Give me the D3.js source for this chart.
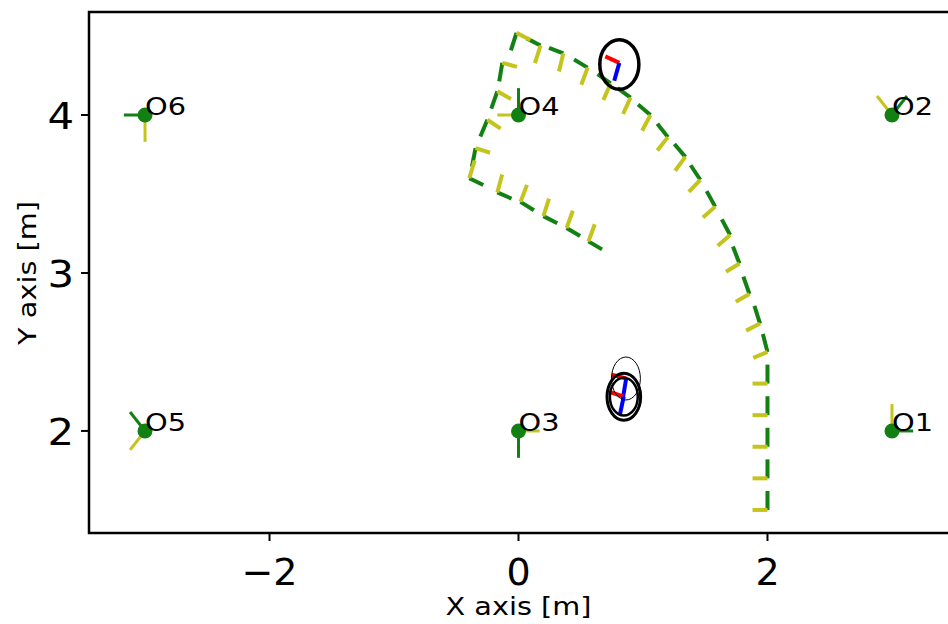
<!DOCTYPE html>
<html>
<head>
<meta charset="utf-8">
<script src="https://cdn.jsdelivr.net/npm/d3@7"></script>
<style>
  body { margin: 0; background: #fff; }
  text { font-family: "DejaVu Sans", sans-serif; }
</style>
</head>
<body>
<script>
// tick values and labels
var xTicks = [-2, 0, 2];
var xTickLabels = ["\u22122", "0", "2"];
var yTicks = [2, 3, 4];
var yTickLabels = ["2", "3", "4"];

// landmarks O1..O6 (position + orientation in degrees)
var landmarkNames = ["O1", "O2", "O3", "O4", "O5", "O6"];
var landmarkX = [3, 3, 0, 0, -3, -3];
var landmarkY = [2, 4, 2, 4, 2, 4];
var landmarkTheta = [0, 45, -90, 90, 135, 180];

// reference trajectory poses
var pathX = [2.0, 2.0, 2.0, 2.0, 2.0, 2.0, 1.94, 1.855, 1.775, 1.70,
             1.58, 1.46, 1.34, 1.20, 1.06, 0.90, 0.74, 0.555, 0.36, 0.177,
             -0.016, -0.13, -0.17, -0.25, -0.345, -0.395, -0.17, 0.016, 0.20, 0.386, 0.562];
var pathY = [1.5, 1.7, 1.9, 2.1, 2.3, 2.5, 2.68, 2.867, 3.06, 3.24,
             3.42, 3.59, 3.735, 3.86, 4.0, 4.11, 4.20, 4.30, 4.39, 4.44,
             4.52, 4.33, 4.15, 3.97, 3.79, 3.60, 3.51, 3.45, 3.36, 3.285, 3.20];
var pathTheta = [90, 90, 90, 90, 90, 108, 112, 114, 116, 124,
                 125, 130, 137, 135, 146, 150, 151, 155, 163, 158,
                 248, 258, 246, 242, 256, 339, 341, 334, 338, 335, 335];

// estimated robot poses (frames)
var robotX = [0.865, 0.845, 0.81];
var robotY = [2.332, 2.217, 4.33];
var robotTheta = [168, 165, 160];

// uncertainty ellipses
var ellipseX = [0.863, 0.846, 0.846, 0.81];
var ellipseY = [2.332, 2.217, 2.217, 4.32];
var ellipseRx = [0.116, 0.135, 0.112, 0.157];
var ellipseRy = [0.136, 0.149, 0.12, 0.157];

// set the dimensions of the figure
var W = 948, H = 624;
var margin = {top: 12, right: 0, bottom: 91, left: 89};

var svg = d3.select("body").append("svg")
    .attr("width", W)
    .attr("height", H);

var x = d3.scaleLinear().domain([-3.45, 3.45]).range([margin.left, W - margin.right]);
var y = d3.scaleLinear().domain([1.354, 4.652]).range([H - margin.bottom, margin.top]);

var green = "#138013", yellow = "#c4c41c";
var rad = Math.PI / 180;

// draw a small frame: first segment along theta, second along theta + 90
function frame(g, px, py, th, len, c1, c2, w) {
  var a1 = th * rad, a2 = (th + 90) * rad;
  g.append("line")
      .attr("x1", x(px)).attr("y1", y(py))
      .attr("x2", x(px + len * Math.cos(a1))).attr("y2", y(py + len * Math.sin(a1)))
      .attr("stroke", c1).attr("stroke-width", w);
  g.append("line")
      .attr("x1", x(px)).attr("y1", y(py))
      .attr("x2", x(px + len * Math.cos(a2))).attr("y2", y(py + len * Math.sin(a2)))
      .attr("stroke", c2).attr("stroke-width", w);
}

var plot = svg.append("g");

// trajectory poses
var pg = plot.append("g");
pathX.forEach(function(d, i) {
  frame(pg, pathX[i], pathY[i], pathTheta[i], 0.12, green, yellow, 4);
});

// landmarks
var lg = plot.append("g");
landmarkX.forEach(function(d, i) {
  frame(lg, landmarkX[i], landmarkY[i], landmarkTheta[i], 0.17, green, yellow, 3);
});
lg.selectAll("circle")
    .data(landmarkNames)
  .enter().append("circle")
    .attr("cx", (d, i) => x(landmarkX[i]))
    .attr("cy", (d, i) => y(landmarkY[i]))
    .attr("r", 7.5)
    .attr("fill", green);

// robot frames
var rg = plot.append("g");
robotX.forEach(function(d, i) {
  frame(rg, robotX[i], robotY[i], robotTheta[i], 0.12, "#ff0000", "#0000ff", 4);
});

// ellipses
var ellipseStroke = [1, 3, 2.5, 3.5];
plot.append("g").selectAll("ellipse")
    .data(ellipseX)
  .enter().append("ellipse")
    .attr("cx", d => x(d))
    .attr("cy", (d, i) => y(ellipseY[i]))
    .attr("rx", (d, i) => x(d + ellipseRx[i]) - x(d))
    .attr("ry", (d, i) => y(ellipseY[i]) - y(ellipseY[i] + ellipseRy[i]))
    .attr("fill", "none")
    .attr("stroke", "#000")
    .attr("stroke-width", (d, i) => ellipseStroke[i]);

// landmark labels (slightly wide, as in the picture)
plot.append("g").selectAll("text")
    .data(landmarkNames)
  .enter().append("text")
    .attr("transform", (d, i) => "translate(" + x(landmarkX[i]) + "," + y(landmarkY[i]) + ") scale(1.2,1)")
    .attr("font-size", 24)
    .attr("fill", "#000")
    .text(d => d);

// axes frame
var x0 = margin.left, x1 = W - margin.right, y0 = margin.top, y1 = H - margin.bottom;
svg.append("path")
    .attr("d", "M" + x1 + "," + y0 + "H" + x0 + "V" + y1 + "H" + x1)
    .attr("fill", "none")
    .attr("stroke", "#000")
    .attr("stroke-width", 2.5);

// ticks
svg.append("g").selectAll("line")
    .data(xTicks)
  .enter().append("line")
    .attr("x1", d => x(d)).attr("x2", d => x(d))
    .attr("y1", y1).attr("y2", y1 + 8)
    .attr("stroke", "#000").attr("stroke-width", 2);
svg.append("g").selectAll("text")
    .data(xTicks)
  .enter().append("text")
    .attr("x", d => x(d))
    .attr("y", y1 + 52)
    .attr("text-anchor", "middle")
    .attr("font-size", 38)
    .text((d, i) => xTickLabels[i]);

svg.append("g").selectAll("line")
    .data(yTicks)
  .enter().append("line")
    .attr("x1", x0 - 8).attr("x2", x0)
    .attr("y1", d => y(d)).attr("y2", d => y(d))
    .attr("stroke", "#000").attr("stroke-width", 2);
svg.append("g").selectAll("text")
    .data(yTicks)
  .enter().append("text")
    .attr("transform", d => "translate(" + (x0 - 15) + "," + y(d) + ") scale(1.1,1)")
    .attr("dy", "0.36em")
    .attr("text-anchor", "end")
    .attr("font-size", 38)
    .text((d, i) => yTickLabels[i]);

// axis labels
svg.append("text")
    .attr("transform", "translate(" + x(0) + ",615) scale(1.15,1)")
    .attr("text-anchor", "middle")
    .attr("font-size", 25)
    .text("X axis [m]");
svg.append("text")
    .attr("transform", "translate(36," + y(3) + ") rotate(-90) scale(1.15,1)")
    .attr("text-anchor", "middle")
    .attr("font-size", 25)
    .text("Y axis [m]");
</script>
</body>
</html>
